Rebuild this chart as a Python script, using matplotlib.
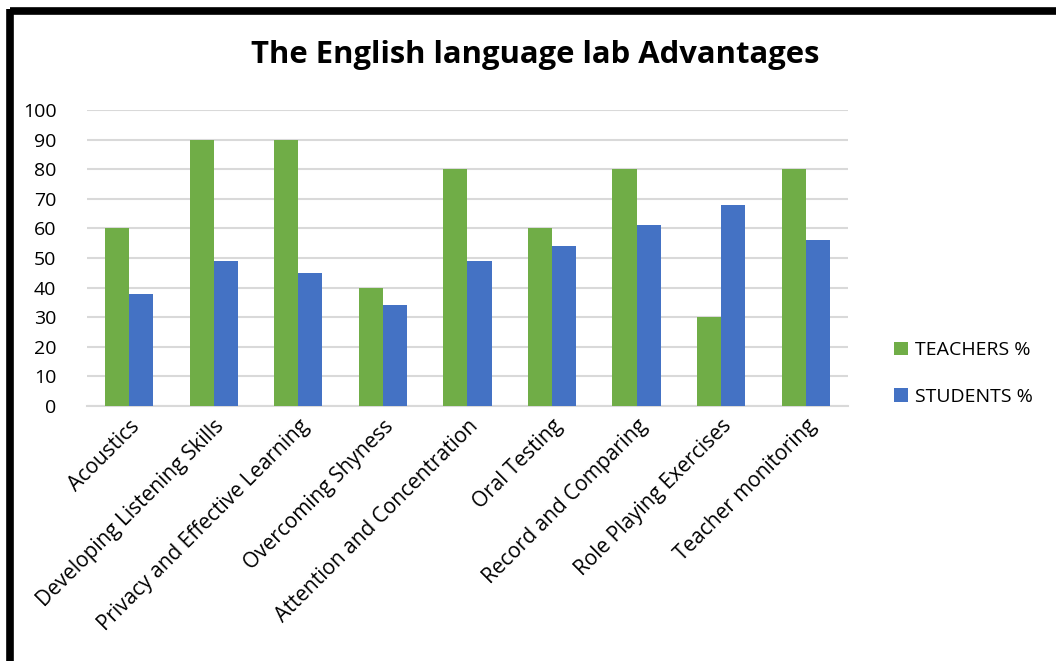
import matplotlib
matplotlib.use("Agg")
import matplotlib.pyplot as plt
import numpy as np
from matplotlib.lines import Line2D

categories = [
    "Acoustics",
    "Developing Listening Skills",
    "Privacy and Effective Learning",
    "Overcoming Shyness",
    "Attention and Concentration",
    "Oral Testing",
    "Record and Comparing",
    "Role Playing Exercises",
    "Teacher monitoring",
]
teachers = [60, 90, 90, 40, 80, 60, 80, 30, 80]
students = [38, 49, 45, 34, 49, 54, 61, 68, 56]
series_names = ["TEACHERS %", "STUDENTS %"]
yticks = [0, 10, 20, 30, 40, 50, 60, 70, 80, 90, 100]

plt.rcParams["font.family"] = ["Open Sans", "DejaVu Sans"]

fig = plt.figure(figsize=(10.56, 6.61), dpi=100)
ax = fig.add_axes([0.0824, 0.3858, 0.7206, 0.4478])

x = np.arange(len(categories))
w = 0.285
green = "#70ad47"
blue = "#4472c4"
ax.bar(x - w / 2, teachers, w, color=green, label=series_names[0], zorder=3)
ax.bar(x + w / 2, students, w, color=blue, label=series_names[1], zorder=3)

ax.set_xlim(-0.5, len(categories) - 0.5)
ax.set_ylim(0, 100)
ax.set_yticks(yticks)
ax.set_yticklabels([str(v) for v in yticks], fontsize=14)
ax.yaxis.grid(True, color="#d9d9d9", linewidth=1.5, zorder=0)
ax.set_xticks(x)
ax.set_xticklabels(categories, rotation=45, ha="right", va="top",
                   rotation_mode="anchor", fontsize=15)
ax.tick_params(axis="x", length=0, pad=7)
ax.tick_params(axis="y", length=0, pad=22)
for side in ["top", "right", "left"]:
    ax.spines[side].set_visible(False)
ax.spines["bottom"].set_color("#d9d9d9")
ax.spines["bottom"].set_linewidth(1.5)

fig.text(0.507, 0.917, "The English language lab Advantages",
         ha="center", va="center", fontsize=22.3, fontweight="bold")

fig.legend(loc="center left", bbox_to_anchor=(0.83, 0.435), frameon=False,
           fontsize=14, handlelength=0.7, handleheight=0.7, handletextpad=0.4,
           labelspacing=1.45)

# Frame lines along the top and left edges
fig.add_artist(Line2D([0.0095, 1.0], [0.983, 0.983], color="black",
                      linewidth=5.5, transform=fig.transFigure,
                      solid_capstyle="butt"))
fig.add_artist(Line2D([0.0095, 0.0095], [0.0, 0.987], color="black",
                      linewidth=5.5, transform=fig.transFigure,
                      solid_capstyle="butt"))

fig.savefig("out.png", dpi=100)
